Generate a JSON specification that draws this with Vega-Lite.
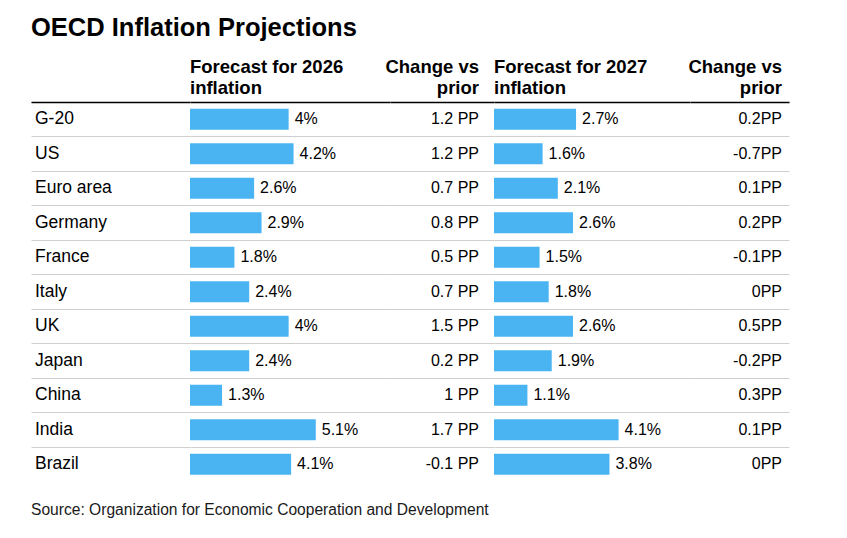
{
  "$schema": "https://vega.github.io/schema/vega-lite/v6.json",
  "background": "white",
  "padding": {"left": 31, "top": 16, "right": 10, "bottom": 10},
  "title": {"text": "OECD Inflation Projections", "anchor": "start", "fontSize": 25.5, "font": "Liberation Sans", "fontWeight": "bold", "color": "#000000", "offset": 16},
  "data": {"values": [
    {"country": "G-20", "f2026": 0.04, "c2026": "1.2 PP", "f2027": 0.027, "c2027": "0.2PP"},
    {"country": "US", "f2026": 0.042, "c2026": "1.2 PP", "f2027": 0.016, "c2027": "-0.7PP"},
    {"country": "Euro area", "f2026": 0.026, "c2026": "0.7 PP", "f2027": 0.021, "c2027": "0.1PP"},
    {"country": "Germany", "f2026": 0.029, "c2026": "0.8 PP", "f2027": 0.026, "c2027": "0.2PP"},
    {"country": "France", "f2026": 0.018, "c2026": "0.5 PP", "f2027": 0.015, "c2027": "-0.1PP"},
    {"country": "Italy", "f2026": 0.024, "c2026": "0.7 PP", "f2027": 0.018, "c2027": "0PP"},
    {"country": "UK", "f2026": 0.04, "c2026": "1.5 PP", "f2027": 0.026, "c2027": "0.5PP"},
    {"country": "Japan", "f2026": 0.024, "c2026": "0.2 PP", "f2027": 0.019, "c2027": "-0.2PP"},
    {"country": "China", "f2026": 0.013, "c2026": "1 PP", "f2027": 0.011, "c2027": "0.3PP"},
    {"country": "India", "f2026": 0.051, "c2026": "1.7 PP", "f2027": 0.041, "c2027": "0.1PP"},
    {"country": "Brazil", "f2026": 0.041, "c2026": "-0.1 PP", "f2027": 0.038, "c2027": "0PP"}
  ]},
  "spacing": 0,
  "bounds": "flush",
  "config": {
    "view": {"stroke": null},
    "font": "Liberation Sans",
    "title": {"font": "Liberation Sans", "color": "#000000"},
    "axisX": {"domain": true, "domainColor": "#000000", "domainWidth": 1.5, "ticks": false, "labels": false, "grid": false},
    "axisY": {"grid": true, "gridColor": "#cfcfcf", "gridWidth": 1, "domain": false, "ticks": false, "labels": false, "bandPosition": 0},
    "text": {"fontSize": 16, "color": "#000000", "baseline": "middle"}
  },
  "hconcat": [
    {
      "width": 159,
      "height": {"step": 34.5},
      "title": {"text": "Source: Organization for Economic Cooperation and Development", "orient": "bottom", "anchor": "start", "fontSize": 15.6, "fontWeight": "normal", "offset": 21, "color": "#1a1a1a"},
      "mark": {"type": "text", "align": "left", "dx": 4, "fontSize": 17.5},
      "encoding": {
        "y": {"field": "country", "type": "nominal", "sort": null, "scale": {"type": "band", "paddingInner": 0, "paddingOuter": 0}, "axis": {"title": null}},
        "x": {"datum": 0, "type": "quantitative", "scale": {"domain": [0, 1], "nice": false}, "axis": {"orient": "top", "title": null}},
        "text": {"field": "country", "type": "nominal"}
      }
    },
    {
      "width": 200,
      "height": {"step": 34.5},
      "title": {"text": ["Forecast for 2026", "inflation"], "anchor": "start", "fontSize": 18.5, "fontWeight": "bold", "lineHeight": 21, "offset": 5},
      "encoding": {
        "y": {"field": "country", "type": "nominal", "sort": null, "scale": {"type": "band", "paddingInner": 0, "paddingOuter": 0}, "axis": {"title": null}},
        "x": {"field": "f2026", "type": "quantitative", "scale": {"domain": [0, 0.0811], "nice": false}, "axis": {"orient": "top", "title": null}}
      },
      "layer": [
        {"mark": {"type": "bar", "color": "#4ab4f3", "height": {"band": 0.61}}},
        {"mark": {"type": "text", "align": "left", "dx": 6}, "encoding": {"text": {"field": "f2026", "type": "quantitative", "format": ".1~%"}}}
      ]
    },
    {
      "width": 104,
      "height": {"step": 34.5},
      "title": {"text": ["Change vs", "prior"], "anchor": "end", "fontSize": 18.5, "fontWeight": "bold", "lineHeight": 21, "offset": 5, "dx": -15},
      "mark": {"type": "text", "align": "right", "dx": -15},
      "encoding": {
        "y": {"field": "country", "type": "nominal", "sort": null, "scale": {"type": "band", "paddingInner": 0, "paddingOuter": 0}, "axis": {"title": null}},
        "x": {"datum": 1, "type": "quantitative", "scale": {"domain": [0, 1], "nice": false}, "axis": {"orient": "top", "title": null}},
        "text": {"field": "c2026", "type": "nominal"}
      }
    },
    {
      "width": 196,
      "height": {"step": 34.5},
      "title": {"text": ["Forecast for 2027", "inflation"], "anchor": "start", "fontSize": 18.5, "fontWeight": "bold", "lineHeight": 21, "offset": 5},
      "encoding": {
        "y": {"field": "country", "type": "nominal", "sort": null, "scale": {"type": "band", "paddingInner": 0, "paddingOuter": 0}, "axis": {"title": null}},
        "x": {"field": "f2027", "type": "quantitative", "scale": {"domain": [0, 0.0645], "nice": false}, "axis": {"orient": "top", "title": null}}
      },
      "layer": [
        {"mark": {"type": "bar", "color": "#4ab4f3", "height": {"band": 0.61}}},
        {"mark": {"type": "text", "align": "left", "dx": 6}, "encoding": {"text": {"field": "f2027", "type": "quantitative", "format": ".1~%"}}}
      ]
    },
    {
      "width": 99,
      "height": {"step": 34.5},
      "title": {"text": ["Change vs", "prior"], "anchor": "end", "fontSize": 18.5, "fontWeight": "bold", "lineHeight": 21, "offset": 5, "dx": -7},
      "mark": {"type": "text", "align": "right", "dx": -7},
      "encoding": {
        "y": {"field": "country", "type": "nominal", "sort": null, "scale": {"type": "band", "paddingInner": 0, "paddingOuter": 0}, "axis": {"title": null}},
        "x": {"datum": 1, "type": "quantitative", "scale": {"domain": [0, 1], "nice": false}, "axis": {"orient": "top", "title": null}},
        "text": {"field": "c2027", "type": "nominal"}
      }
    }
  ]
}
